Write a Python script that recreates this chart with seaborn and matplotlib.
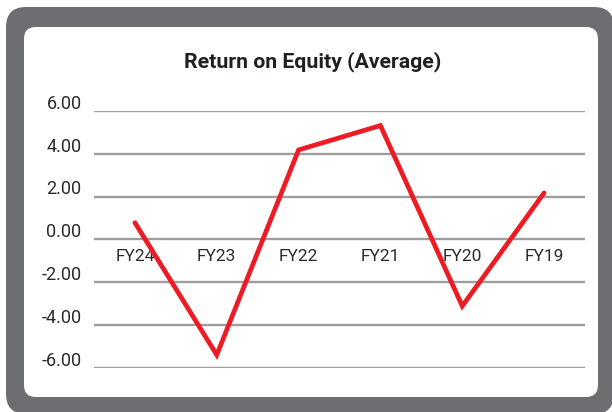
import matplotlib
matplotlib.use("Agg")
import matplotlib.pyplot as plt
import matplotlib.transforms as mtransforms
from matplotlib.patches import FancyBboxPatch
import seaborn as sns
import pandas as pd

# ---- data ----
categories = ["FY24", "FY23", "FY22", "FY21", "FY20", "FY19"]
roe_values = [0.78, -5.40, 4.18, 5.32, -3.12, 2.17]
yticks = [-6, -4, -2, 0, 2, 4, 6]
ytick_labels = ["-6.00", "-4.00", "-2.00", "0.00", "2.00", "4.00", "6.00"]
title = "Return on Equity (Average)"

sns.set_style("white")
plt.rcParams["font.family"] = ["Roboto", "DejaVu Sans"]

W, H, DPI = 612, 412, 100
fig = plt.figure(figsize=(W / DPI, H / DPI), dpi=DPI, facecolor="white")

# frame (pixel coordinates, origin bottom-left)
ident = mtransforms.IdentityTransform()
outer = FancyBboxPatch((6, -2), 608, 407, boxstyle="round,pad=0,rounding_size=20",
                       transform=ident, facecolor="#6d6e71", edgecolor="none", zorder=-3)
inner = FancyBboxPatch((24, 15), 574, 370, boxstyle="round,pad=0,rounding_size=12",
                       transform=ident, facecolor="white", edgecolor="none", zorder=-2)
fig.patches.extend([outer, inner])

left, right = 94 / W, 585 / W
top, bottom = 1 - 111 / H, 1 - 367.7 / H
ax = fig.add_axes([left, bottom, right - left, top - bottom])
ax.set_facecolor("none")

df = pd.DataFrame({"cat": categories, "val": roe_values})
sns.lineplot(data=df, x="cat", y="val", sort=False, ax=ax, color="#ed1c24",
             linewidth=3.4, solid_capstyle="round", solid_joinstyle="miter")

ax.set_xlim(-0.5, len(categories) - 0.5)
ax.set_ylim(-6, 6)
ax.set_yticks(yticks, labels=ytick_labels)
ax.set_xlabel("")
ax.set_ylabel("")

for s in ax.spines.values():
    s.set_visible(False)
ax.spines["bottom"].set_position(("data", 0))

ax.grid(axis="y", color="#9e9e9e", linewidth=1.7)
ax.grid(axis="x", visible=False)
ax.set_axisbelow(True)

ax.tick_params(axis="y", length=0, pad=9, labelsize=13, labelcolor="#2b2b2b")
ax.tick_params(axis="x", length=0, pad=7, labelsize=12.5, labelcolor="#2b2b2b")

offset = mtransforms.ScaledTranslation(0, 1.5 / 72, fig.dpi_scale_trans)
for lab in ax.get_yticklabels():
    lab.set_verticalalignment("baseline")
    lab.set_transform(lab.get_transform() + offset)

fig.text(312.5 / W, 1 - 67 / H, title, ha="center", va="baseline",
         fontsize=15.3, fontweight="bold", color="#231f20")

fig.savefig("out.png", dpi=DPI, facecolor="white")
